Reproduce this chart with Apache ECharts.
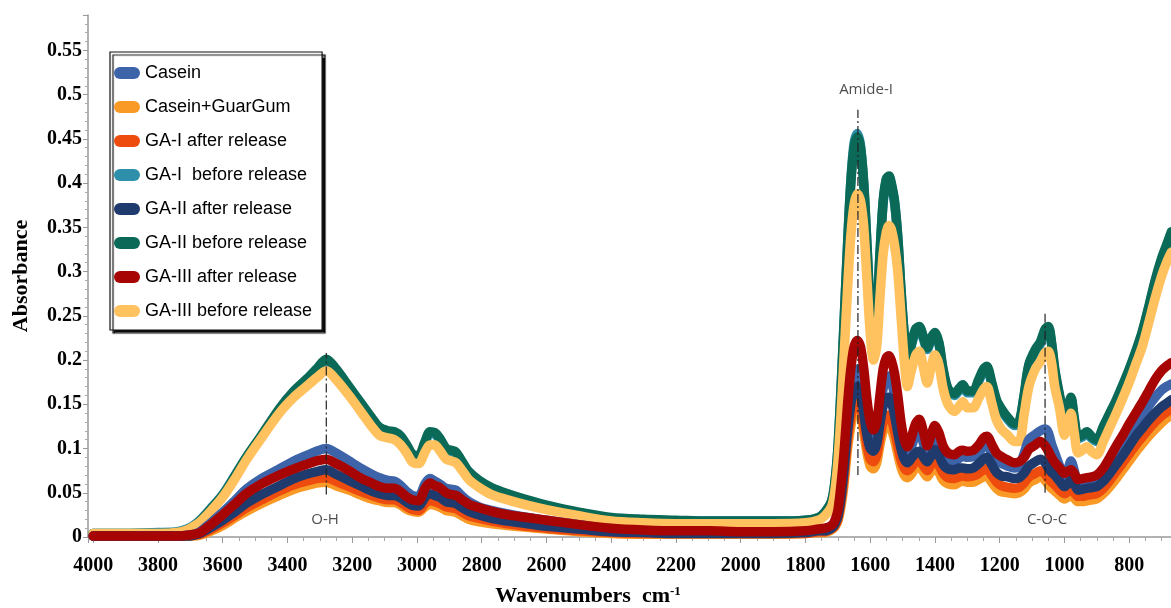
<!DOCTYPE html>
<html><head><meta charset="utf-8">
<script src="https://cdn.jsdelivr.net/npm/echarts@6/dist/echarts.min.js"></script>
<style>html,body{margin:0;padding:0;background:#fff}#c{width:1171px;height:608px}</style>
</head><body><div id="c"></div>
<script>
// Wavenumbers (cm-1)
const wavenumbers = [4000,3900,3800,3740,3710,3690,3670,3640,3600,3560,3527,3480,3425,3380,3342,3310,3280,3250,3210,3170,3140,3116,3090,3070,3050,3030,3015,2995,2975,2960,2945,2930,2910,2895,2880,2860,2840,2808,2770,2720,2660,2600,2500,2400,2300,2200,2100,2000,1900,1800,1760,
1740,1720,1710,1700,1690,1680,1670,1660,1650,1640,1630,1620,1610,1600,1590,1580,1570,1560,1550,1542,1535,1525,1515,1505,1495,1485,1475,1460,1449,1435,1424,1412,1400,1388,1375,1360,1340,1325,1314,1300,1282,1265,1250,1240,1225,1210,1195,1175,1155,1140,1125,1110,1090,1075,1060,1050,1040,1030,1015,1000,990,980,970,958,945,931,915,900,880,860,840,820,800,780,760,740,720,700,685,670];

const casein = [.001,.001,.001,.001,.002,.003,.006,.015,.028,.042,.054,.066,.077,.086,.092,.097,.100,.095,.086,.077,.071,.067,.064,.063,.058,.051,.047,.046,.060,.066,.063,.060,.055,.054,.053,.046,.040,.034,.030,.026,.022,.019,.014,.009,.007,.006,.006,.005,.005,.006,.008,
.009,.012,.016,.026,.050,.085,.130,.165,.185,.190,.183,.160,.135,.118,.113,.120,.145,.168,.180,.182,.177,.160,.140,.115,.098,.092,.100,.115,.120,.105,.093,.103,.112,.105,.093,.087,.086,.089,.091,.090,.091,.096,.102,.104,.095,.086,.083,.080,.078,.080,.094,.110,.116,.120,.122,.118,.105,.095,.080,.066,.075,.086,.075,.058,.057,.058,.059,.060,.067,.078,.090,.100,.112,.124,.136,.148,.158,.166,.170,.173];

const caseinGuarGum = [.001,.001,.001,.001,.001,.001,.002,.006,.013,.022,.029,.038,.047,.054,.058,.061,.062,.058,.053,.047,.043,.041,.039,.039,.036,.031,.029,.028,.034,.037,.036,.034,.030,.029,.028,.024,.020,.017,.015,.013,.011,.009,.006,.004,.003,.003,.003,.003,.003,.004,.005,
.005,.008,.011,.018,.035,.062,.100,.125,.142,.145,.139,.118,.095,.080,.077,.084,.104,.120,.127,.128,.123,.110,.094,.079,.070,.067,.070,.078,.080,.073,.068,.074,.079,.073,.064,.060,.059,.062,.063,.062,.062,.065,.068,.069,.062,.055,.051,.050,.049,.050,.054,.061,.065,.068,.064,.059,.055,.052,.047,.043,.045,.047,.044,.040,.040,.041,.042,.043,.049,.057,.066,.076,.086,.096,.105,.114,.122,.129,.134,.138];

const gaIAfter = [.001,.001,.001,.001,.001,.002,.003,.008,.016,.025,.033,.042,.052,.059,.063,.066,.067,.063,.057,.051,.047,.044,.042,.042,.039,.034,.031,.030,.038,.041,.040,.038,.034,.033,.032,.028,.024,.021,.018,.015,.012,.010,.007,.005,.004,.004,.004,.004,.004,.004,.006,
.006,.009,.012,.020,.040,.070,.110,.135,.150,.153,.147,.127,.103,.088,.085,.092,.113,.130,.137,.138,.133,.120,.103,.087,.078,.075,.078,.085,.087,.080,.075,.082,.087,.081,.072,.067,.066,.068,.069,.068,.069,.072,.076,.077,.070,.062,.058,.056,.055,.056,.061,.068,.072,.075,.071,.066,.062,.059,.053,.049,.051,.053,.050,.046,.046,.047,.048,.049,.055,.064,.074,.084,.094,.104,.113,.122,.130,.137,.141,.145];

const gaIBefore = [.004,.004,.005,.006,.009,.013,.019,.031,.048,.071,.090,.114,.143,.163,.176,.188,.199,.188,.168,.148,.133,.122,.118,.117,.112,.101,.092,.090,.106,.117,.116,.110,.098,.096,.094,.083,.072,.062,.054,.047,.040,.034,.027,.021,.019,.018,.018,.018,.018,.019,.022,
.028,.040,.058,.098,.168,.248,.330,.402,.445,.456,.442,.398,.328,.258,.226,.248,.318,.378,.404,.407,.398,.378,.338,.278,.228,.198,.213,.233,.236,.223,.212,.223,.229,.218,.188,.166,.160,.166,.170,.163,.163,.176,.188,.191,.173,.153,.143,.133,.126,.128,.158,.193,.210,.218,.233,.236,.218,.188,.158,.133,.143,.156,.133,.111,.113,.117,.111,.108,.123,.138,.153,.170,.188,.208,.230,.258,.288,.313,.328,.343];

const gaIIAfter = [.001,.001,.001,.001,.001,.002,.004,.010,.019,.029,.038,.048,.058,.066,.071,.074,.076,.071,.064,.057,.052,.049,.047,.047,.044,.039,.036,.035,.045,.049,.047,.045,.040,.039,.038,.033,.029,.025,.021,.018,.015,.012,.009,.006,.005,.004,.004,.004,.004,.005,.007,
.007,.010,.014,.023,.045,.080,.120,.150,.166,.170,.163,.140,.115,.100,.097,.105,.128,.148,.157,.158,.153,.138,.118,.100,.088,.084,.088,.095,.097,.090,.085,.092,.099,.092,.082,.077,.076,.078,.078,.077,.078,.083,.088,.090,.082,.073,.069,.068,.066,.067,.072,.080,.085,.088,.084,.078,.073,.070,.063,.057,.060,.064,.060,.053,.054,.055,.056,.057,.063,.072,.082,.092,.103,.114,.123,.132,.140,.147,.151,.155];

const gaIIBefore = [.004,.004,.004,.005,.008,.012,.018,.030,.047,.070,.090,.115,.145,.165,.178,.190,.201,.190,.170,.150,.135,.124,.120,.119,.114,.103,.094,.092,.108,.119,.118,.112,.100,.098,.096,.085,.074,.064,.056,.049,.042,.036,.028,.022,.020,.019,.018,.018,.018,.019,.022,
.028,.040,.060,.100,.170,.250,.330,.400,.440,.452,.440,.400,.330,.260,.228,.250,.320,.380,.405,.408,.400,.380,.340,.280,.230,.200,.215,.235,.238,.225,.214,.225,.231,.220,.190,.168,.162,.168,.172,.165,.165,.178,.190,.193,.175,.155,.145,.135,.128,.130,.160,.195,.212,.220,.235,.238,.220,.190,.160,.135,.145,.158,.135,.113,.115,.119,.113,.110,.125,.140,.155,.172,.190,.210,.232,.260,.290,.315,.330,.345];

const gaIIIAfter = [.001,.001,.001,.001,.002,.003,.005,.013,.025,.038,.049,.060,.070,.077,.082,.086,.088,.083,.075,.066,.061,.057,.055,.055,.051,.045,.042,.041,.055,.061,.058,.056,.050,.048,.047,.042,.037,.033,.029,.025,.022,.019,.014,.010,.008,.007,.007,.006,.006,.007,.009,
.010,.013,.018,.030,.060,.100,.150,.190,.215,.222,.215,.190,.155,.130,.121,.130,.160,.190,.203,.205,.200,.185,.160,.130,.110,.102,.110,.128,.133,.118,.103,.115,.126,.118,.103,.095,.093,.097,.098,.097,.098,.104,.112,.114,.105,.095,.091,.087,.084,.085,.090,.099,.104,.108,.103,.097,.090,.084,.078,.072,.074,.076,.072,.065,.066,.067,.068,.070,.078,.090,.103,.115,.128,.140,.152,.165,.178,.188,.193,.197];

const gaIIIBefore = [.004,.004,.004,.005,.008,.012,.017,.028,.045,.067,.087,.112,.140,.158,.170,.180,.188,.178,.160,.140,.125,.115,.112,.110,.104,.094,.085,.083,.096,.104,.104,.098,.088,.086,.084,.075,.065,.056,.048,.042,.036,.031,.024,.018,.016,.015,.015,.015,.015,.016,.019,
.024,.034,.050,.085,.140,.210,.280,.340,.375,.388,.380,.350,.290,.230,.200,.215,.270,.320,.345,.352,.348,.330,.300,.250,.200,.170,.185,.205,.210,.190,.174,.192,.206,.195,.168,.150,.142,.148,.153,.146,.146,.157,.167,.170,.152,.132,.122,.115,.108,.108,.138,.170,.190,.198,.208,.210,.197,.170,.145,.115,.125,.140,.118,.095,.098,.102,.096,.093,.108,.124,.140,.157,.175,.195,.215,.242,.270,.295,.310,.322];

const legendNames = ['Casein','Casein+GuarGum','GA-I after release','GA-I  before release','GA-II after release','GA-II before release','GA-III after release','GA-III before release'];
const seriesValues = [casein, caseinGuarGum, gaIAfter, gaIBefore, gaIIAfter, gaIIBefore, gaIIIAfter, gaIIIBefore];
const seriesColors = ['#3D63A8','#F99A27','#EE4B0E','#2E8FAA','#1F3A6C','#0B6A57','#A70404','#FFC25F'];
// drawing order (bottom to top)
const drawOrder = [3,5,7,1,2,0,4,6];

// Peak annotations
const peakLabels = ['O-H','Amide-I','C-O-C'];
const peakWn = [3280, 1638, 1060];
const peakLineFrom = [0.048, 0.070, 0.050];
const peakLineTo = [0.208, 0.483, 0.253];
const peakLabelWn = [3284, 1613, 1054];
const peakLabelY = [0.019, 0.506, 0.019];

const series = [];
drawOrder.forEach(i => {
  series.push({
    name: legendNames[i], type: 'line', showSymbol: false, smooth: 0.3,
    data: wavenumbers.map((w, k) => [w, seriesValues[i][k]]),
    itemStyle: {color: seriesColors[i]},
    lineStyle: {color: seriesColors[i], width: 9.5, cap: 'round', join: 'round'},
    emphasis: {disabled: true}, silent: true, animation: false
  });
});
peakLabels.forEach((lab, i) => {
  series.push({
    type: 'line', showSymbol: false, silent: true, animation: false, z: 5,
    data: [[peakWn[i], peakLineFrom[i]], [peakWn[i], peakLineTo[i]]],
    lineStyle: {color: '#222', width: 1.2, type: [9, 3, 2, 3]}
  });
});
series.push({
  type: 'scatter', symbolSize: 0, silent: true, animation: false, z: 6,
  data: peakLabels.map((lab, i) => ({name: lab, value: [peakLabelWn[i], peakLabelY[i]]})),
  label: {show: true, position: 'inside', formatter: '{b}', color: '#222', fontSize: 15, fontFamily: 'Open Sans'}
});

const serifBold = '"Liberation Serif","Times New Roman",serif';
const chart = echarts.init(document.getElementById('c'), null, {renderer: 'canvas'});
chart.setOption({
  animation: false,
  backgroundColor: '#fff',
  grid: {left: 88, right: -23, top: 15, bottom: 71, outerBoundsMode: 'none', containLabel: false},
  legend: {
    data: legendNames, orient: 'vertical', left: 110, top: 52,
    icon: 'path://M6,0 L20,0 A6,6 0 0 1 20,12 L6,12 A6,6 0 0 1 6,0 Z',
    itemWidth: 26, itemHeight: 12, itemGap: 12,
    padding: [10, 10, 8, 4],
    backgroundColor: '#fff', borderColor: '#111', borderWidth: 1.2, borderRadius: 0,
    shadowColor: 'rgba(0,0,0,0.95)', shadowBlur: 1, shadowOffsetX: 3, shadowOffsetY: 3,
    textStyle: {fontFamily: '"Liberation Sans", Arial, sans-serif', fontSize: 18, color: '#000', lineHeight: 22},
    selectedMode: false
  },
  xAxis: {
    type: 'value', inverse: true, min: 600, max: 4016, interval: 200,
    name: 'Wavenumbers  cm{sup|-1}', nameLocation: 'middle', nameGap: 48,
    nameTextStyle: {fontFamily: serifBold, fontWeight: 'bold', fontSize: 22, color: '#000',
      padding: [0, 106, 0, 0],
      rich: {sup: {fontFamily: serifBold, fontSize: 13, color: '#000', verticalAlign: 'top', padding: [0,0,10,0]}}},
    axisLine: {show: true, onZero: false, lineStyle: {color: '#999', width: 1.5}},
    axisTick: {show: true, inside: false, length: 6, lineStyle: {color: '#999'}},
    minorTick: {show: true, splitNumber: 4, length: 4, lineStyle: {color: '#aaa'}},
    splitLine: {show: false},
    axisLabel: {showMaxLabel: false, margin: 19, fontFamily: serifBold, fontWeight: 'bold', fontSize: 20, color: '#000',
      formatter: v => String(Math.round(v))}
  },
  yAxis: {
    type: 'value', min: 0, max: 0.59, interval: 0.05,
    name: 'Absorbance', nameLocation: 'middle', nameGap: 56, nameRotate: 90,
    nameTextStyle: {fontFamily: serifBold, fontWeight: 'bold', fontSize: 22, color: '#000'},
    axisLine: {show: true, lineStyle: {color: '#999', width: 1.5}},
    axisTick: {show: true, inside: false, length: 5, lineStyle: {color: '#999'}},
    minorTick: {show: true, splitNumber: 5, length: 3, lineStyle: {color: '#aaa'}},
    splitLine: {show: false},
    axisLabel: {showMaxLabel: false, margin: 6, fontFamily: serifBold, fontWeight: 'bold', fontSize: 20, color: '#000',
      formatter: v => String(Math.round(v * 100) / 100)}
  },
  series: series
});
</script></body></html>
